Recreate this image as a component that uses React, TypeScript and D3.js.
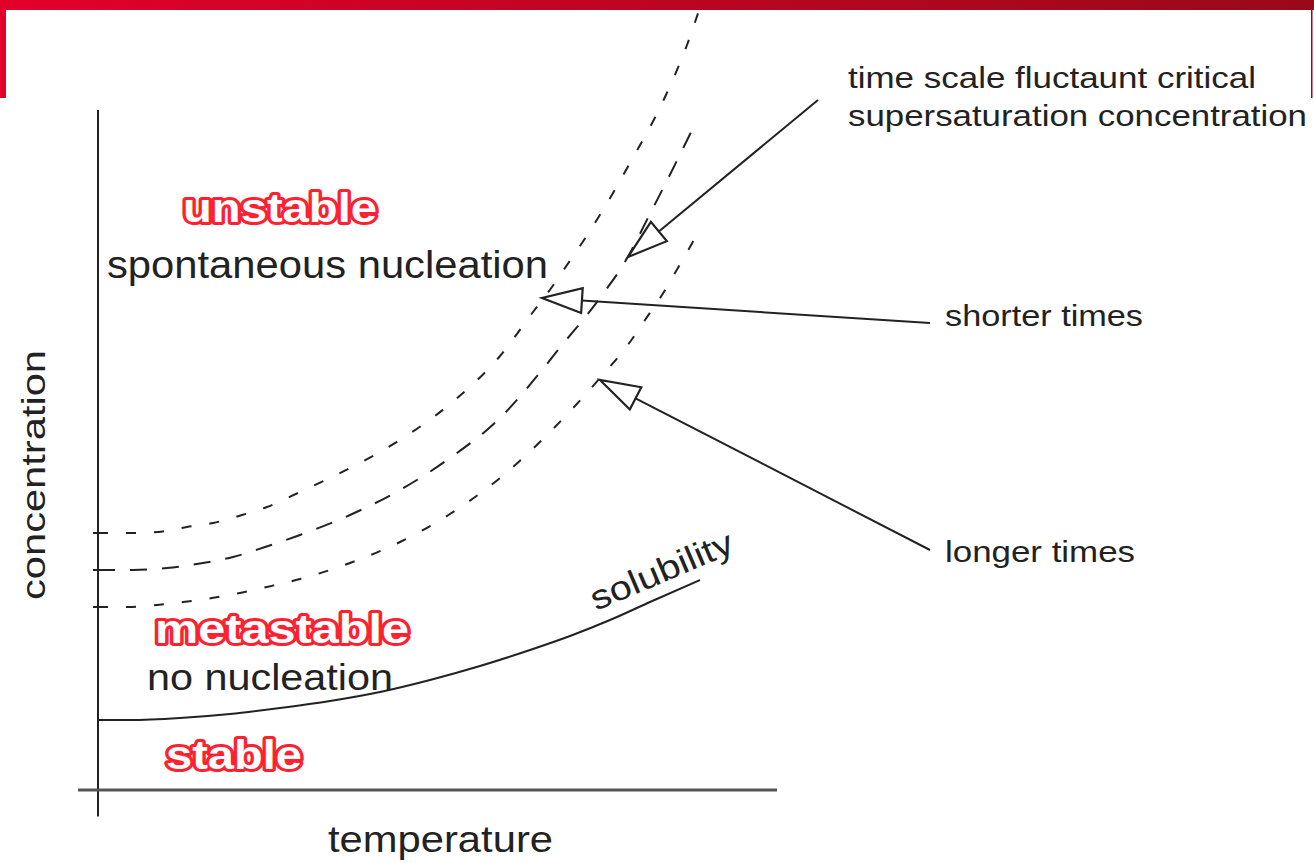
import React from 'react';
import * as d3 from 'd3';

const W = 1314;
const H = 863;

// data domains (abstract temperature / concentration units)
const temperatureDomain: [number, number] = [0, 68];
const concentrationDomain: [number, number] = [0, 68];

// critical supersaturation curves (temperature, concentration)
const criticalShort: [number, number][] = [
  [0, 25.7], [3.2, 25.7], [6.0, 25.8], [8.9, 26.3], [11.5, 26.7], [14.4, 27.5],
  [16.9, 28.3], [20.2, 29.8], [25.2, 32.2], [30.2, 35.0], [35.2, 38.6], [40.2, 43.4],
  [43.5, 47.8], [45.4, 50.3], [46.9, 52.5], [48.4, 54.7], [50.0, 57.2], [53.2, 62.7],
  [56.7, 69.3], [58.9, 74.5], [60.6, 79.5],
];
const criticalFluct: [number, number][] = [
  [0, 22.0], [3.5, 22.0], [6.9, 22.2], [10.5, 22.7], [13.5, 23.3], [16.7, 24.3],
  [20.2, 25.5], [25.2, 27.5], [30.2, 30.0], [35.2, 33.2], [40.2, 37.2], [44.4, 42.0],
  [46.4, 44.5], [48.9, 47.5], [50.7, 49.9], [52.2, 52.0], [55.5, 58.2], [59.9, 67.0],
];
const criticalLong: [number, number][] = [
  [0, 18.3], [3.0, 18.3], [5.9, 18.5], [8.5, 18.8], [11.4, 19.2], [14.2, 19.7],
  [16.9, 20.3], [20.2, 21.1], [25.2, 22.7], [30.2, 24.8], [35.2, 27.6], [40.2, 31.2],
  [45.2, 35.8], [50.2, 41.2], [53.2, 44.8], [54.7, 47.0], [56.4, 49.5], [57.7, 51.7],
  [59.2, 54.3], [59.7, 55.2],
];
const solubility: [number, number][] = [
  [0, 7.0], [3.2, 7.0], [8.2, 7.2], [13.2, 7.6], [18.2, 8.2], [23.2, 8.9],
  [28.2, 9.8], [33.2, 11.0], [38.2, 12.4], [43.2, 14.0], [47.2, 15.4], [51.2, 17.0],
  [55.2, 18.8], [60.2, 21.0],
];
const axisTicks = [25.7, 22.0, 18.3];

// annotation arrows: tail (label end) -> tip (curve)
const arrowTails: [number, number][] = [[72.0, 69.0], [83.2, 46.7], [83.2, 24.0]];
const arrowTips: [number, number][] = [[53.0, 53.3], [44.4, 49.2], [50.2, 41.0]];

const xScale = d3.scaleLinear().domain(temperatureDomain).range([98, 778]);
const yScale = d3.scaleLinear().domain(concentrationDomain).range([790, 110]);

const line = d3
  .line<[number, number]>()
  .x((d) => xScale(d[0]))
  .y((d) => yScale(d[1]))
  .curve(d3.curveMonotoneX);

const FONT = "'Liberation Sans', Arial, Helvetica, sans-serif";
const INK = '#222';

function Arrow({ tail, tip }: { tail: [number, number]; tip: [number, number] }) {
  const tx = xScale(tip[0]);
  const ty = yScale(tip[1]);
  const ax = xScale(tail[0]);
  const ay = yScale(tail[1]);
  const len = Math.hypot(ax - tx, ay - ty);
  const ux = (ax - tx) / len;
  const uy = (ay - ty) / len;
  const L = 40;
  const hw = 12.5;
  const bx = tx + ux * L;
  const by = ty + uy * L;
  const nx = -uy;
  const ny = ux;
  const pts = `${tx},${ty} ${bx + nx * hw},${by + ny * hw} ${bx - nx * hw},${by - ny * hw}`;
  return (
    <g>
      <line x1={bx} y1={by} x2={ax} y2={ay} stroke={INK} strokeWidth={2} />
      <polygon points={pts} fill="none" stroke={INK} strokeWidth={2.2} strokeLinejoin="miter" />
    </g>
  );
}

function RedLabel({ x, y, text, len }: { x: number; y: number; text: string; len: number }) {
  return (
    <text
      x={x}
      y={y}
      fontFamily={FONT}
      fontWeight="bold"
      fontSize={41}
      fill="#ffffff"
      stroke="#ff2030"
      strokeWidth={6}
      strokeLinejoin="round"
      style={{ paintOrder: 'stroke' }}
      textLength={len}
      lengthAdjust="spacingAndGlyphs"
    >
      {text}
    </text>
  );
}

function Txt({ x, y, text, len, size, transform }: { x: number; y: number; text: string; len: number; size: number; transform?: string }) {
  return (
    <text
      x={x}
      y={y}
      fontFamily={FONT}
      fontSize={size}
      fill={INK}
      textLength={len}
      lengthAdjust="spacingAndGlyphs"
      transform={transform}
    >
      {text}
    </text>
  );
}

export default function App() {
  return (
    <svg
      width={W}
      height={H}
      viewBox={`0 0 ${W} ${H}`}
      style={{ position: 'absolute', left: 0, top: 0, display: 'block', background: '#fff' }}
    >
      <defs>
        <linearGradient id="banner" x1="0" x2="1" y1="0" y2="0">
          <stop offset="0" stopColor="#e2002b" />
          <stop offset="1" stopColor="#980a18" />
        </linearGradient>
      </defs>
      <rect x={0} y={0} width={W} height={H} fill="#fff" />

      {/* axes */}
      <line x1={xScale(0)} y1={yScale(68)} x2={xScale(0)} y2={yScale(-2.65)} stroke="#222" strokeWidth={2} />
      <line x1={xScale(-2)} y1={yScale(0)} x2={xScale(67.9)} y2={yScale(0)} stroke="#555" strokeWidth={3} />
      {axisTicks.map((t) => (
        <line key={t} x1={xScale(0) - 5} x2={xScale(0)} y1={yScale(t)} y2={yScale(t)} stroke="#222" strokeWidth={2} />
      ))}

      {/* curves */}
      <path d={line(criticalShort) || ''} fill="none" stroke={INK} strokeWidth={2} strokeDasharray="10 18" />
      <path d={line(criticalFluct) || ''} fill="none" stroke={INK} strokeWidth={2} strokeDasharray="17 15" />
      <path d={line(criticalLong) || ''} fill="none" stroke={INK} strokeWidth={2} strokeDasharray="10 18" />
      <path d={line(solubility) || ''} fill="none" stroke={INK} strokeWidth={2} />

      {/* arrows */}
      {arrowTips.map((tip, i) => (
        <Arrow key={i} tip={tip} tail={arrowTails[i]} />
      ))}

      {/* region labels */}
      <RedLabel x={183} y={222} text="unstable" len={194} />
      <RedLabel x={155} y={643} text="metastable" len={254} />
      <RedLabel x={166} y={769} text="stable" len={136} />

      <Txt x={107} y={278} text="spontaneous nucleation" len={441} size={38} />
      <Txt x={147} y={690} text="no nucleation" len={246} size={36} />
      <Txt x={328} y={852} text="temperature" len={225} size={36} />
      <Txt x={0} y={0} text="concentration" len={250} size={34} transform="translate(45,600) rotate(-90)" />
      <Txt x={0} y={0} text="solubility" len={152} size={34} transform="translate(596,611) rotate(-23)" />
      <Txt x={848} y={88} text="time scale fluctaunt critical" len={408} size={30} />
      <Txt x={848} y={126} text="supersaturation concentration" len={459} size={30} />
      <Txt x={945} y={326} text="shorter times" len={198} size={29} />
      <Txt x={945} y={562} text="longer times" len={190} size={29} />

      {/* banner frame */}
      <rect x={0} y={0} width={W} height={10} fill="url(#banner)" />
      <rect x={0} y={0} width={6} height={98} fill="#e2002b" />
      <rect x={1311} y={0} width={1.5} height={98} fill="#980a18" />
    </svg>
  );
}
